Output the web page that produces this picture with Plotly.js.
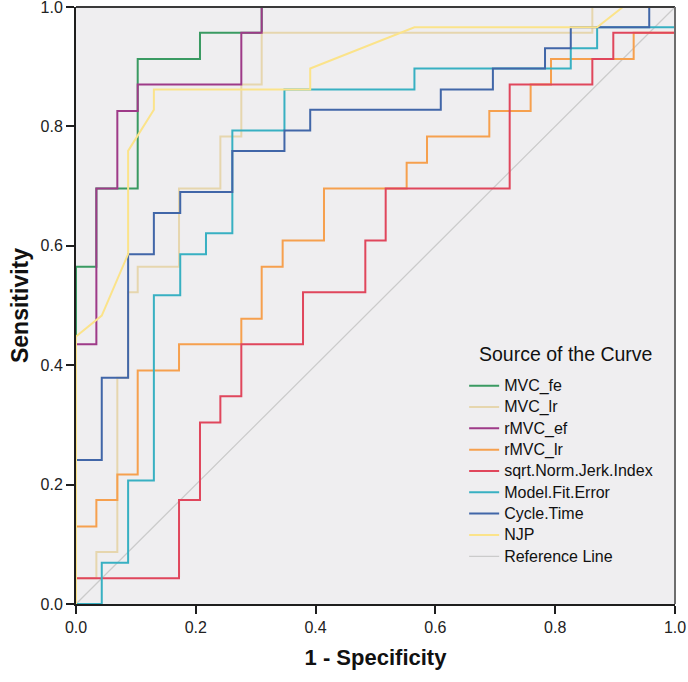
<!DOCTYPE html>
<html>
<head>
<meta charset="utf-8">
<script src="https://cdn.plot.ly/plotly-3.0.1.min.js"></script>
<style>html,body{margin:0;padding:0;background:#fff;}#chart{width:688px;height:682px;}</style>
</head>
<body>
<div id="chart"></div>
<script>
// Series names (legend order)
const seriesNames = ["MVC_fe", "MVC_lr", "rMVC_ef", "rMVC_lr", "sqrt.Norm.Jerk.Index", "Model.Fit.Error", "Cycle.Time", "NJP"];
const refName = "Reference Line";

// ROC points: 1 - Specificity (x) and Sensitivity (y)
const mvcFeX = [0, 0, 0.034, 0.034, 0.103, 0.103, 0.207, 0.207, 0.310, 0.310, 1];
const mvcFeY = [0, 0.565, 0.565, 0.696, 0.696, 0.913, 0.913, 0.957, 0.957, 1, 1];

const mvcLrX = [0, 0, 0.034, 0.034, 0.069, 0.069, 0.087, 0.087, 0.103, 0.103, 0.172, 0.172, 0.241, 0.241, 0.276, 0.276, 0.310, 0.310, 0.862, 0.862, 1];
const mvcLrY = [0, 0.043, 0.043, 0.087, 0.087, 0.379, 0.379, 0.522, 0.522, 0.565, 0.565, 0.696, 0.696, 0.783, 0.783, 0.870, 0.870, 0.957, 0.957, 1, 1];

const rMvcEfX = [0, 0, 0.034, 0.034, 0.069, 0.069, 0.103, 0.103, 0.276, 0.276, 0.310, 0.310, 1];
const rMvcEfY = [0, 0.435, 0.435, 0.696, 0.696, 0.826, 0.826, 0.870, 0.870, 0.957, 0.957, 1, 1];

const rMvcLrX = [0, 0, 0.034, 0.034, 0.069, 0.069, 0.103, 0.103, 0.172, 0.172, 0.276, 0.276, 0.310, 0.310, 0.345, 0.345, 0.414, 0.414, 0.552, 0.552, 0.586, 0.586, 0.690, 0.690, 0.759, 0.759, 0.793, 0.793, 0.931, 0.931, 1, 1];
const rMvcLrY = [0, 0.130, 0.130, 0.174, 0.174, 0.217, 0.217, 0.391, 0.391, 0.435, 0.435, 0.478, 0.478, 0.565, 0.565, 0.609, 0.609, 0.696, 0.696, 0.739, 0.739, 0.783, 0.783, 0.826, 0.826, 0.870, 0.870, 0.913, 0.913, 0.957, 0.957, 1];

const jerkX = [0, 0, 0.172, 0.172, 0.207, 0.207, 0.241, 0.241, 0.276, 0.276, 0.379, 0.379, 0.483, 0.483, 0.517, 0.517, 0.724, 0.724, 0.862, 0.862, 0.897, 0.897, 1, 1];
const jerkY = [0, 0.043, 0.043, 0.174, 0.174, 0.304, 0.304, 0.348, 0.348, 0.435, 0.435, 0.522, 0.522, 0.609, 0.609, 0.696, 0.696, 0.870, 0.870, 0.913, 0.913, 0.957, 0.957, 1];

const fitErrX = [0, 0.043, 0.043, 0.087, 0.087, 0.130, 0.130, 0.174, 0.174, 0.217, 0.217, 0.261, 0.261, 0.348, 0.348, 0.565, 0.565, 0.826, 0.826, 0.870, 0.870, 1, 1];
const fitErrY = [0, 0, 0.069, 0.069, 0.207, 0.207, 0.517, 0.517, 0.586, 0.586, 0.621, 0.621, 0.793, 0.793, 0.862, 0.862, 0.897, 0.897, 0.931, 0.931, 0.966, 0.966, 1];

const cycleX = [0, 0, 0.043, 0.043, 0.087, 0.087, 0.130, 0.130, 0.174, 0.174, 0.261, 0.261, 0.348, 0.348, 0.391, 0.391, 0.609, 0.609, 0.696, 0.696, 0.783, 0.783, 0.826, 0.826, 0.957, 0.957, 1];
const cycleY = [0, 0.241, 0.241, 0.379, 0.379, 0.586, 0.586, 0.655, 0.655, 0.690, 0.690, 0.759, 0.759, 0.793, 0.793, 0.828, 0.828, 0.862, 0.862, 0.897, 0.897, 0.931, 0.931, 0.966, 0.966, 1, 1];

const njpX = [0, 0, 0.043, 0.087, 0.087, 0.130, 0.130, 0.391, 0.391, 0.565, 0.870, 0.913, 1];
const njpY = [0, 0.448, 0.483, 0.586, 0.759, 0.828, 0.862, 0.862, 0.897, 0.966, 0.966, 1, 1];

const refX = [0, 1];
const refY = [0, 1];

const tickVals = [0, 0.2, 0.4, 0.6, 0.8, 1.0];
const tickText = ["0.0", "0.2", "0.4", "0.6", "0.8", "1.0"];

const seriesX = [mvcFeX, mvcLrX, rMvcEfX, rMvcLrX, jerkX, fitErrX, cycleX, njpX];
const seriesY = [mvcFeY, mvcLrY, rMvcEfY, rMvcLrY, jerkY, fitErrY, cycleY, njpY];
const colors = ["#3a9a62", "#e6d6ae", "#9e3a88", "#f6a04e", "#e0465c", "#38b0c2", "#4166a8", "#fbe38a"];

const FONT = "Liberation Sans, Arial, sans-serif";
const span = s => '<span style="font-size:16px">' + s + '</span>';

const traces = [{
  x: refX, y: refY, mode: "lines", name: span(refName), legendrank: 9,
  line: {color: "#cbcbcb", width: 1.3}, hoverinfo: "skip"
}];
seriesNames.forEach((n, i) => {
  traces.push({
    x: seriesX[i], y: seriesY[i], mode: "lines", name: span(n), legendrank: i + 1,
    line: {color: colors[i], width: 2}
  });
});

const axisCommon = {
  range: [0, 1], autorange: false, showgrid: false, zeroline: false,
  showline: true, linecolor: "#1e1e1e", linewidth: 2,
  ticks: "outside", ticklen: 8, tickwidth: 2, tickcolor: "#1e1e1e",
  tickvals: tickVals, ticktext: tickText,
  tickfont: {family: FONT, size: 16, color: "#222"},
  ticklabeloverflow: "allow",
  automargin: false, fixedrange: true
};

const layout = {
  width: 688, height: 682,
  margin: {l: 76, r: 13, t: 7, b: 78},
  paper_bgcolor: "#ffffff", plot_bgcolor: "#efeef0",
  font: {family: FONT, color: "#111"},
  showlegend: true,
  legend: {
    x: 0.648, y: 0.392, xanchor: "left", yanchor: "top",
    bgcolor: "rgba(0,0,0,0)", borderwidth: 0,
    font: {family: FONT, size: 14.1, color: "#111"},
    itemwidth: 30, tracegroupgap: 0
  },
  xaxis: Object.assign({}, axisCommon, {
    title: {text: "1 - Specificity", font: {family: FONT, size: 22, weight: "bold", color: "#111"}, standoff: 14}
  }),
  yaxis: Object.assign({}, axisCommon, {
    title: {text: "Sensitivity", font: {family: FONT, size: 23, weight: "bold", color: "#111"}, standoff: 5}
  }),
  shapes: [
    {type: "line", xref: "paper", yref: "paper", x0: 0, x1: 1, y0: 1, y1: 1, line: {color: "#3a3a3a", width: 2}},
    {type: "line", xref: "paper", yref: "paper", x0: 1, x1: 1, y0: 0, y1: 1, line: {color: "#6e6e6e", width: 2}}
  ],
  annotations: [{
    text: "Source of the Curve", xref: "paper", yref: "paper",
    x: 0.817, y: 0.419, xanchor: "center", yanchor: "middle", showarrow: false,
    font: {family: FONT, size: 19.5, color: "#111"}
  }]
};

Plotly.newPlot("chart", traces, layout, {displayModeBar: false, staticPlot: true});
</script>
</body>
</html>
